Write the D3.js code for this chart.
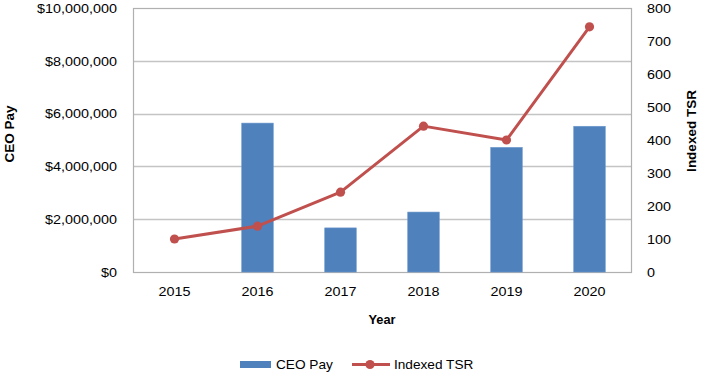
<!DOCTYPE html>
<html><head><meta charset="utf-8">
<script src="https://cdn.jsdelivr.net/npm/d3@7"></script>
<style>html,body{margin:0;padding:0;background:#fff}svg{display:block}text{font-family:"Liberation Sans",Arial,Helvetica,sans-serif;fill:#000}</style>
</head><body><svg id="c" width="702" height="376"></svg>
<script>
const years = ["2015","2016","2017","2018","2019","2020"];
const ceoPay = [null, 5640000, 1670000, 2270000, 4720000, 5520000];
const indexedTSR = [100, 139, 242, 442, 400, 743];
const payTicks = [0, 2000000, 4000000, 6000000, 8000000, 10000000];
const tsrTicks = [0, 100, 200, 300, 400, 500, 600, 700, 800];

const svg = d3.select("#c");
const L = 133, R = 631, T = 8, B = 272;
const x = d3.scaleBand().domain(years).range([L, R]).paddingInner(0.62).paddingOuter(0.31);
const xc = d3.scalePoint().domain(years).range([L, R]).padding(0.5);
const yL = d3.scaleLinear().domain([0, 10000000]).range([B, T]);
const yR = d3.scaleLinear().domain([0, 800]).range([B, T]);
const fmt = d3.format("$,");

// gridlines
svg.append("g").selectAll("line").data(payTicks.slice(1, -1)).join("line")
  .attr("x1", L).attr("x2", R).attr("y1", d => Math.round(yL(d)) + 0.5).attr("y2", d => Math.round(yL(d)) + 0.5)
  .attr("stroke", "#c4c4c4").attr("stroke-width", 1.3);
// border
svg.append("rect").attr("x", L + 0.5).attr("y", T + 0.5).attr("width", R - L).attr("height", B - T)
  .attr("fill", "none").attr("stroke", "#b0b0b0").attr("stroke-width", 1.2);

// bars
svg.append("g").selectAll("rect").data(years.map((y, i) => ({y, v: ceoPay[i]})).filter(d => d.v != null)).join("rect")
  .attr("x", d => x(d.y)).attr("width", x.bandwidth())
  .attr("y", d => yL(d.v)).attr("height", d => B - yL(d.v))
  .attr("fill", "#4F81BD").attr("stroke", "#6a97cc").attr("stroke-width", 0.6);

// line
const pts = years.map((y, i) => [xc(y), yR(indexedTSR[i])]);
svg.append("path").attr("d", d3.line()(pts)).attr("fill", "none").attr("stroke", "#C0504D").attr("stroke-width", 3).attr("stroke-linejoin", "round");
svg.append("g").selectAll("circle").data(pts).join("circle").attr("cx", d => d[0]).attr("cy", d => d[1]).attr("r", 4.6).attr("fill", "#C0504D");

// axes
const SX = 1.15;
function txt(g, x0, y0, s, opts) {
  const t = g.append("text").attr("transform", `translate(${x0},${y0}) scale(${opts.sx || 1},${opts.sy || 1})${opts.rot ? " rotate(" + opts.rot + ")" : ""}`)
    .attr("text-anchor", opts.anchor || "start").attr("font-size", opts.fs).text(s);
  if (opts.bold) t.attr("font-weight", "bold");
  return t;
}
const ax = svg.append("g");
const axisL = d3.axisLeft(yL).tickValues(payTicks).tickSize(0).tickFormat(fmt);
const gL = svg.append("g").attr("transform", `translate(${L},0)`).call(axisL);
gL.select(".domain").remove();
gL.selectAll("text").remove();
payTicks.forEach(v => txt(ax, 117, yL(v) + 4.7, fmt(v), {fs: 12.5, sx: SX, anchor: "end"}));
const axisR = d3.axisRight(yR).tickValues(tsrTicks).tickSize(0);
const gR = svg.append("g").attr("transform", `translate(${R},0)`).call(axisR);
gR.select(".domain").remove();
gR.selectAll("text").remove();
tsrTicks.forEach(v => txt(ax, 647, yR(v) + 4.7, String(v), {fs: 12.5, sx: SX}));
const axisB = d3.axisBottom(xc).tickSize(0);
const gB = svg.append("g").attr("transform", `translate(0,${B})`).call(axisB);
gB.select(".domain").remove();
gB.selectAll("text").remove();
years.forEach(y => txt(ax, xc(y), 296, y, {fs: 12.5, sx: SX, anchor: "middle"}));

// titles
txt(ax, 382, 324, "Year", {fs: 12.8, bold: true, anchor: "middle"});
txt(ax, 13.5, 134, "CEO Pay", {fs: 13.5, bold: true, anchor: "middle", rot: -90});
txt(ax, 695.5, 131, "Indexed TSR", {fs: 13.5, bold: true, anchor: "middle", rot: -90});

// legend
const lg = svg.append("g");
lg.append("rect").attr("x", 240).attr("y", 361).attr("width", 31).attr("height", 7).attr("fill", "#4F81BD");
txt(lg, 276, 369, "CEO Pay", {fs: 13, sx: 1.05});
lg.append("line").attr("x1", 352).attr("x2", 390).attr("y1", 364.5).attr("y2", 364.5).attr("stroke", "#C0504D").attr("stroke-width", 3);
lg.append("circle").attr("cx", 370).attr("cy", 364.5).attr("r", 4.6).attr("fill", "#C0504D");
txt(lg, 394, 369, "Indexed TSR", {fs: 13, sx: 1.05});
</script></body></html>
